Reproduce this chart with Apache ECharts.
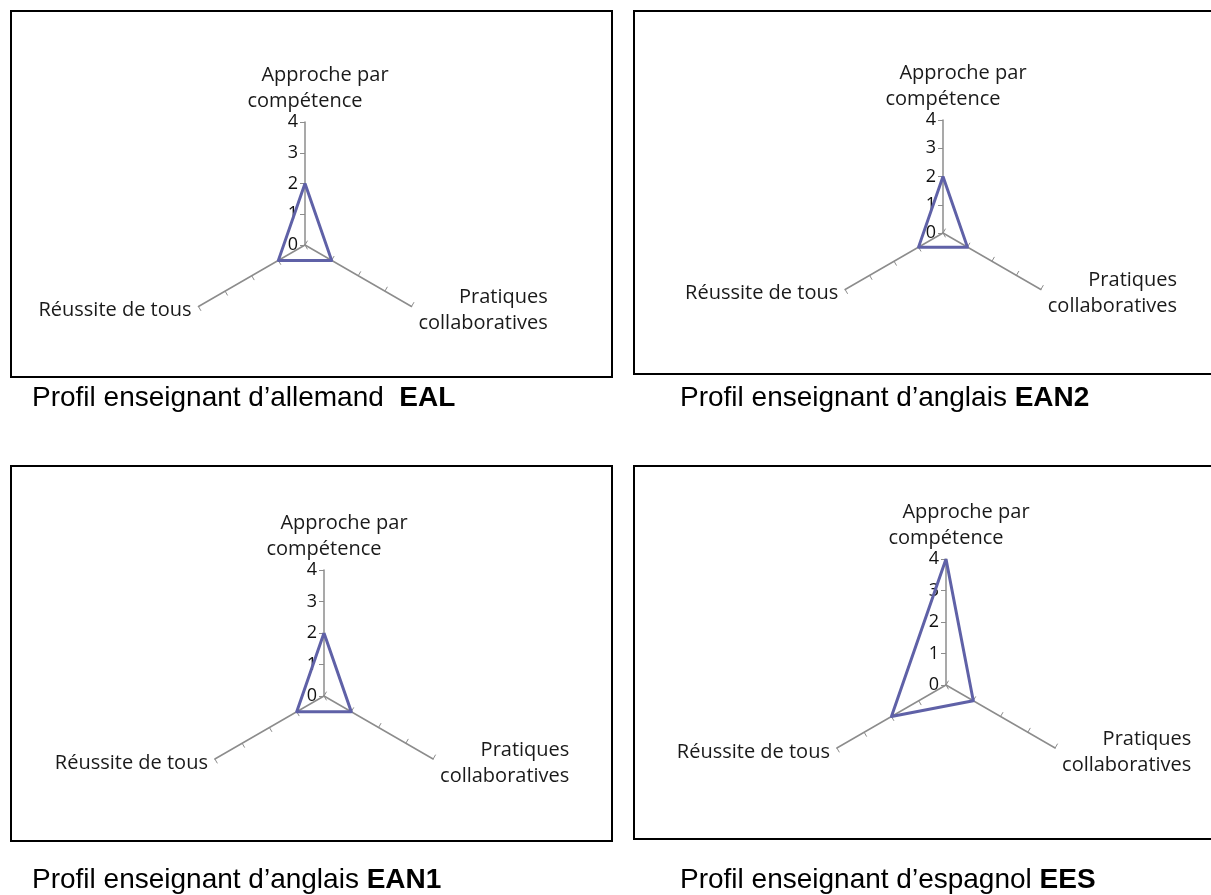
<!DOCTYPE html>
<html>
<head>
<meta charset="utf-8">
<script src="https://cdn.jsdelivr.net/npm/echarts@6/dist/echarts.min.js"></script>
<style>
  html, body { margin: 0; padding: 0; background: #ffffff; }
  #chart { width: 1211px; height: 895px; }
</style>
</head>
<body>
<div id="chart"></div>
<script>
// ---- Data ----
const indicatorNames = ['Approche par compétence', 'Réussite de tous', 'Pratiques collaboratives'];
const indicatorMin = 0;
const indicatorMax = 4;
const tickCount = 4;

const profileCodes = ['EAL', 'EAN2', 'EAN1', 'EES'];
const captionTexts = [
  'Profil enseignant d’allemand  ',
  'Profil enseignant d’anglais ',
  'Profil enseignant d’anglais ',
  'Profil enseignant d’espagnol '
];
// values in order: Approche par compétence, Réussite de tous, Pratiques collaboratives
const valuesEAL  = [2, 1, 1];
const valuesEAN2 = [2, 1, 1];
const valuesEAN1 = [2, 1, 1];
const valuesEES  = [4, 2, 1];
const profileValues = [valuesEAL, valuesEAN2, valuesEAN1, valuesEES];

// ---- Layout ----
const radarCenters = [[305, 245], [943, 233], [324, 696], [946, 685]];
const radarRadii = [123, 113, 126, 126];
const boxes = [
  { x: 11, y: 11, w: 601, h: 366 },
  { x: 634, y: 11, w: 600, h: 363 },
  { x: 11, y: 466, w: 601, h: 375 },
  { x: 634, y: 466, w: 600, h: 373 }
];
const captionPos = [[32, 398], [680, 398], [32, 880], [680, 880]];

const FONT = 'Open Sans';
const lineColor = '#5f61a7';
const axisColor = '#8c8c8c';
const textColor = '#1a1a1a';
const NAME_SIZE = 20;

const nameRich = {
  a: { fontFamily: FONT, fontSize: NAME_SIZE, color: textColor, lineHeight: 26, align: 'center', padding: [0, 0, 0, 40] },
  b: { fontFamily: FONT, fontSize: NAME_SIZE, color: textColor, lineHeight: 26, align: 'center' },
  p: { fontFamily: FONT, fontSize: NAME_SIZE, color: textColor, lineHeight: 26, align: 'right' },
  c: { fontFamily: FONT, fontSize: NAME_SIZE, color: textColor, lineHeight: 26, align: 'left' },
  r: { fontFamily: FONT, fontSize: NAME_SIZE, color: textColor, lineHeight: 26 }
};

function nameFormatter(name) {
  if (name === indicatorNames[0]) return '{a|Approche par}\n{b|compétence}';
  if (name === indicatorNames[2]) return '{p|Pratiques}\n{c|collaboratives}';
  return '{r|' + name + '}';
}

const radars = profileValues.map((vals, i) => ({
  center: radarCenters[i],
  radius: radarRadii[i],
  startAngle: 90,
  splitNumber: tickCount,
  shape: 'polygon',
  indicator: indicatorNames.map((n, k) => {
    const ind = { name: n, min: indicatorMin, max: indicatorMax };
    if (k === 0) {
      ind.axisLabel = { show: true, fontFamily: FONT, fontSize: 18, color: '#111', margin: 7 };
    }
    return ind;
  }),
  nameGap: 8,
  axisName: {
    formatter: nameFormatter,
    fontFamily: FONT,
    fontSize: NAME_SIZE,
    color: textColor,
    rich: nameRich
  },
  axisLine: { show: true, lineStyle: { color: axisColor, width: 1.5 } },
  axisTick: { show: true, length: 5, lineStyle: { color: axisColor, width: 1 } },
  axisLabel: { show: false },
  splitLine: { show: false },
  splitArea: { show: false }
}));

const series = profileValues.map((vals, i) => ({
  type: 'radar',
  radarIndex: i,
  symbol: 'none',
  silent: true,
  lineStyle: { color: lineColor, width: 3 },
  data: [{ value: vals, name: profileCodes[i] }]
}));

const graphics = [];
boxes.forEach(b => {
  graphics.push({
    type: 'rect',
    shape: { x: b.x, y: b.y, width: b.w, height: b.h },
    style: { fill: 'none', stroke: '#000', lineWidth: 2 },
    z: -1
  });
});
profileCodes.forEach((code, i) => {
  graphics.push({
    type: 'text',
    x: captionPos[i][0],
    y: captionPos[i][1],
    style: {
      text: '{n|' + captionTexts[i] + '}{b|' + code + '}',
      verticalAlign: 'middle',
      rich: {
        n: { fontFamily: 'Liberation Sans', fontSize: 28, color: '#000' },
        b: { fontFamily: 'Liberation Sans', fontSize: 28, fontWeight: 'bold', color: '#000' }
      }
    }
  });
});

const chart = echarts.init(document.getElementById('chart'), null, { renderer: 'canvas' });
chart.setOption({
  backgroundColor: '#ffffff',
  animation: false,
  radar: radars,
  series: series,
  graphic: graphics
});
</script>
</body>
</html>
